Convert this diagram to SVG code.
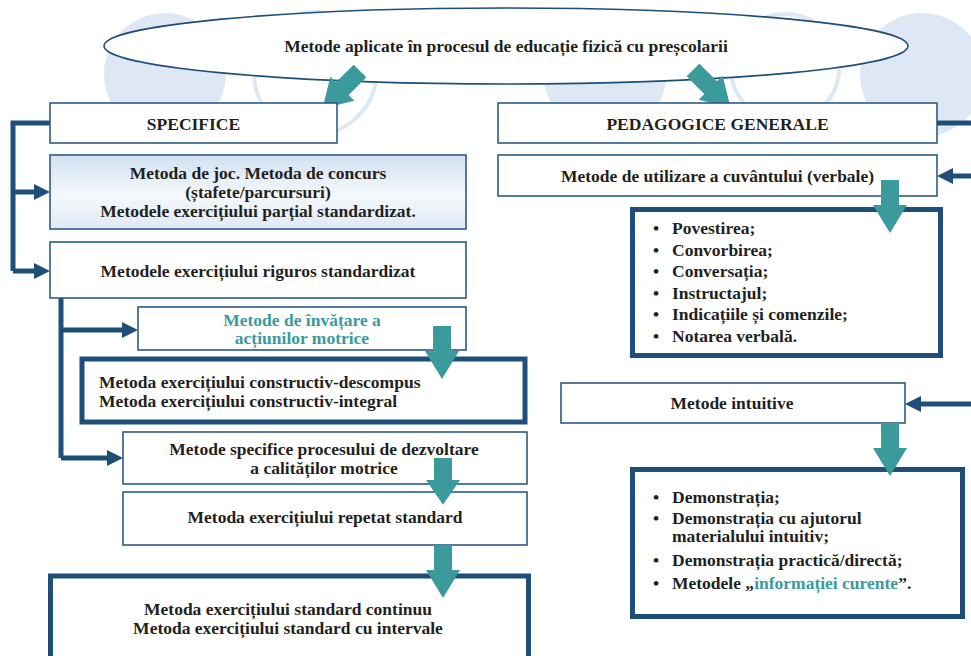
<svg xmlns="http://www.w3.org/2000/svg" width="971" height="656" viewBox="0 0 971 656">
  <style>
    .t { font-family: "Liberation Serif", "Times New Roman", serif; font-weight: bold; font-size: 17.5px; fill: #231f20; }
    .c { text-anchor: middle; }
    .teal { fill: #3a9a9c; }
    .box { fill: #ffffff; stroke: #2d5b86; stroke-width: 1.6; }
    .thick { fill: #ffffff; stroke: #1f4e79; stroke-width: 5; }
    .bg { fill: #dde8f4; }
    .ring { fill: none; stroke: #dde8f4; stroke-width: 4; }
    .link { fill: none; stroke: #1f4e79; stroke-width: 5; }
    .head { fill: #1f4e79; }
    .block { fill: #3a9a9c; }
  </style>
  <defs>
    <linearGradient id="softBlue" x1="0" y1="0" x2="0" y2="1">
      <stop offset="0" stop-color="#d2e1f1"/>
      <stop offset="0.55" stop-color="#f5f8fc"/>
      <stop offset="1" stop-color="#dfe9f5"/>
    </linearGradient>
    <!-- teal block arrow, tail at origin, pointing along +y -->
    <polygon id="blockArrow" points="-9,0 9,0 9,25 17,25 0,53 -17,25 -9,25"/>
  </defs>

  <rect width="971" height="656" fill="#ffffff"/>

  <!-- decorative background circles -->
  <g id="background">
    <circle class="bg" cx="165" cy="74" r="61"/>
    <circle class="ring" cx="315" cy="73" r="61"/>
    <circle class="bg" cx="605" cy="72" r="62"/>
    <circle class="ring" cx="785" cy="68" r="54"/>
    <circle class="bg" cx="922" cy="75" r="62"/>
  </g>

  <!-- title -->
  <g id="title">
    <ellipse cx="506" cy="46" rx="402" ry="38" fill="#ffffff" stroke="#1f4e79" stroke-width="1.6"/>
    <text class="t c" x="506" y="52">Metode aplicate în procesul de educație fizică cu preșcolarii</text>
  </g>

  <!-- connectors -->
  <g id="connectors">
    <!-- left bracket from SPECIFICE -->
    <path class="link" d="M50,123 H13 V271 M13,192 H36 M13,271 H36"/>
    <polygon class="head" points="34,184 50,192 34,200"/>
    <polygon class="head" points="34,263 50,271 34,279"/>
    <!-- bracket from rigorous standardized exercise -->
    <path class="link" d="M61,298 V458 M61,330 H124 M61,458 H109"/>
    <polygon class="head" points="122,322 138,330 122,338"/>
    <polygon class="head" points="107,450 123,458 107,466"/>
    <!-- right side links -->
    <path class="link" d="M937,123 H971 M971,176 H951 M971,404 H919"/>
    <polygon class="head" points="953,168 937,176 953,184"/>
    <polygon class="head" points="921,396 905,404 921,412"/>
    <!-- teal block arrows -->
    <use href="#blockArrow" class="block" transform="translate(360,71) rotate(45)"/>
    <use href="#blockArrow" class="block" transform="translate(693,70) rotate(-45)"/>
  </g>

  <!-- left column -->
  <g id="specifice">
    <rect class="box" x="50" y="103" width="287" height="40"/>
    <text class="t c" x="193.5" y="130">SPECIFICE</text>
  </g>

  <g id="joc">
    <rect x="50" y="155" width="416" height="74" fill="url(#softBlue)" stroke="#2d5b86" stroke-width="1.6"/>
    <text class="t c" x="258" y="179">Metoda de joc. Metoda de concurs<tspan x="258" dy="19">(ștafete/parcursuri)</tspan><tspan x="258" dy="18.5">Metodele exercițiului parțial standardizat.</tspan></text>
  </g>

  <g id="riguros">
    <rect class="box" x="50" y="242" width="416" height="56"/>
    <text class="t c" x="258" y="277">Metodele exercițiului riguros standardizat</text>
  </g>

  <g id="invatare">
    <rect class="box" x="138" y="307" width="328" height="43"/>
    <text class="t c teal" x="302" y="326">Metode de învățare a<tspan x="302" dy="18">acțiunilor motrice</tspan></text>
  </g>

  <g id="constructiv">
    <rect class="thick" x="82" y="359" width="443" height="63"/>
    <text class="t" x="99" y="388">Metoda exercițiului constructiv-descompus<tspan x="99" dy="19">Metoda exercițiului constructiv-integral</tspan></text>
  </g>

  <g id="dezvoltare">
    <rect class="box" x="123" y="432" width="404" height="52"/>
    <text class="t c" x="324" y="455">Metode specifice procesului de dezvoltare<tspan x="324" dy="19">a calităților motrice</tspan></text>
  </g>

  <g id="repetat">
    <rect class="box" x="123" y="492" width="404" height="53"/>
    <text class="t c" x="325" y="523">Metoda exercițiului repetat standard</text>
  </g>

  <g id="standard">
    <rect class="thick" x="50.5" y="576" width="478" height="90"/>
    <text class="t c" x="288" y="615">Metoda exercițiului standard continuu<tspan x="288" dy="18.5">Metoda exercițiului standard cu intervale</tspan></text>
  </g>

  <!-- right column -->
  <g id="pedagogice">
    <rect class="box" x="498" y="103" width="439" height="40"/>
    <text class="t c" x="717.5" y="130">PEDAGOGICE GENERALE</text>
  </g>

  <g id="verbale">
    <rect class="box" x="498" y="155" width="439" height="41"/>
    <text class="t c" x="717.5" y="181.5">Metode de utilizare a cuvântului (verbale)</text>
  </g>

  <g id="lista-verbale">
    <rect class="thick" x="632.5" y="209.5" width="308" height="146"/>
    <g class="t">
      <text x="653" y="234">•</text><text x="672" y="234">Povestirea;</text>
      <text x="653" y="255.5">•</text><text x="672" y="255.5">Convorbirea;</text>
      <text x="653" y="277">•</text><text x="672" y="277">Conversația;</text>
      <text x="653" y="298.5">•</text><text x="672" y="298.5">Instructajul;</text>
      <text x="653" y="320">•</text><text x="672" y="320">Indicațiile și comenzile;</text>
      <text x="653" y="341.5">•</text><text x="672" y="341.5">Notarea verbală.</text>
    </g>
  </g>

  <g id="intuitive">
    <rect class="box" x="561" y="383" width="344" height="40"/>
    <text class="t c" x="732" y="409">Metode intuitive</text>
  </g>

  <g id="lista-intuitive">
    <rect class="thick" x="632.5" y="469.5" width="330" height="147"/>
    <g class="t">
      <text x="653" y="503">•</text><text x="672" y="503">Demonstrația;</text>
      <text x="653" y="523.5">•</text><text x="672" y="523.5">Demonstrația cu ajutorul<tspan x="672" dy="18.5">materialului intuitiv;</tspan></text>
      <text x="653" y="566">•</text><text x="672" y="566">Demonstrația practică/directă;</text>
      <text x="653" y="589">•</text><text x="672" y="589">Metodele „<tspan class="teal">informației curente</tspan>”.</text>
    </g>
  </g>

  <!-- vertical teal arrows drawn over the boxes they link -->
  <g id="flow-arrows" class="block">
    <use href="#blockArrow" transform="translate(890,180)"/>
    <use href="#blockArrow" transform="translate(890,423)"/>
    <use href="#blockArrow" transform="translate(442,326)"/>
    <use href="#blockArrow" transform="translate(443,458) scale(1,0.88)"/>
    <use href="#blockArrow" transform="translate(443,545)"/>
  </g>
</svg>
